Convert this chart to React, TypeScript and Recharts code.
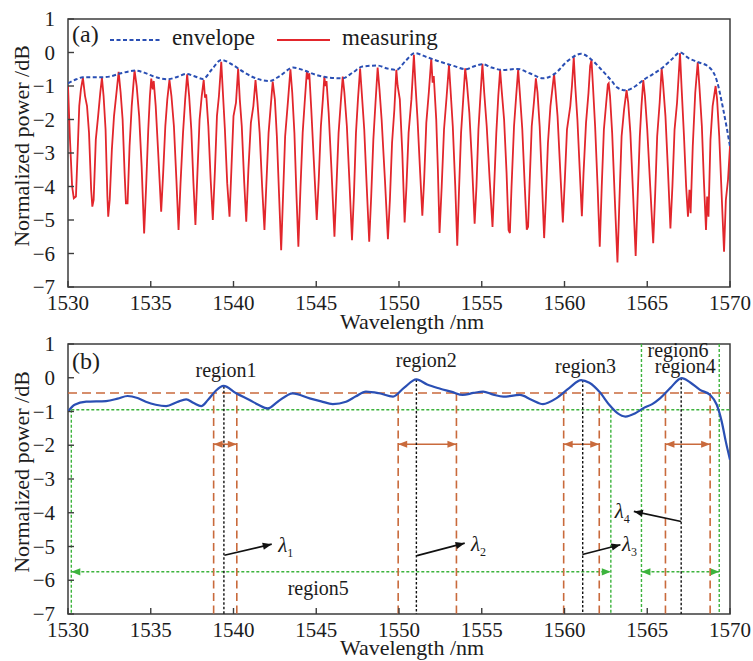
import { LineChart, Line, XAxis, YAxis, ReferenceLine, ReferenceArea, ReferenceDot } from "recharts";

const FONT = "Liberation Serif, DejaVu Serif, Times New Roman, serif";
const INK = "#1c1c1c";
const FRAME = "#3d3d3d";
const RED = "#e2262c";
const BLUE = "#2a4fb4";
const BROWN = "#c96a3c";
const GREEN = "#3db43d";

const xTicks = [1530, 1535, 1540, 1545, 1550, 1555, 1560, 1565, 1570];
const yTicks = [-7, -6, -5, -4, -3, -2, -1, 0, 1];

// (a) measured spectrum, [wavelength nm, dB]
const measured: [number, number][] = [
  [1530.0, -1.0], [1530.12, -2.6], [1530.25, -4.0], [1530.35, -4.35], [1530.48, -4.3], [1530.58, -3.0], [1530.68, -1.6], [1530.78, -1.1],
  [1530.9, -0.75], [1531.03, -1.3], [1531.15, -1.6], [1531.27, -2.4], [1531.4, -4.1], [1531.47, -4.6], [1531.55, -4.4], [1531.68, -2.6], [1531.82, -1.9], [1531.95, -1.2],
  [1532.05, -0.75], [1532.15, -1.3], [1532.27, -2.3], [1532.38, -4.3], [1532.43, -4.9], [1532.52, -4.4], [1532.65, -2.9], [1532.78, -1.9], [1532.95, -1.1],
  [1533.06, -0.58], [1533.18, -1.2], [1533.3, -2.0], [1533.42, -3.6], [1533.5, -4.5], [1533.6, -4.5], [1533.72, -2.8], [1533.85, -1.6],
  [1534.02, -0.53], [1534.15, -1.0], [1534.3, -1.9], [1534.45, -3.4], [1534.6, -5.4], [1534.72, -4.0], [1534.85, -2.3], [1534.95, -1.3],
  [1535.03, -0.78], [1535.12, -1.1], [1535.18, -0.85], [1535.3, -1.6], [1535.45, -3.0], [1535.63, -4.75], [1535.75, -3.6], [1535.88, -2.2], [1536.0, -1.4],
  [1536.13, -0.82], [1536.25, -1.3], [1536.4, -2.2], [1536.55, -3.8], [1536.68, -5.3], [1536.8, -3.9], [1536.95, -2.4], [1537.08, -1.4],
  [1537.2, -0.65], [1537.32, -1.3], [1537.45, -2.3], [1537.58, -3.9], [1537.7, -5.15], [1537.82, -3.6], [1537.95, -2.0], [1538.08, -1.3],
  [1538.2, -0.82], [1538.28, -1.35], [1538.35, -1.25], [1538.48, -2.2], [1538.62, -3.8], [1538.75, -5.0], [1538.88, -3.5], [1539.0, -1.9], [1539.12, -1.3],
  [1539.26, -0.28], [1539.36, -1.2], [1539.48, -2.3], [1539.62, -3.9], [1539.76, -4.9], [1539.88, -3.4], [1540.0, -1.9], [1540.15, -1.5],
  [1540.28, -0.48], [1540.38, -1.4], [1540.5, -2.2], [1540.65, -3.9], [1540.77, -5.05], [1540.9, -3.5], [1541.05, -2.1], [1541.2, -1.6],
  [1541.33, -0.82], [1541.45, -1.5], [1541.58, -2.4], [1541.73, -4.0], [1541.87, -5.3], [1541.98, -4.0], [1542.12, -2.4], [1542.25, -1.6],
  [1542.37, -0.87], [1542.5, -1.4], [1542.62, -2.5], [1542.75, -4.2], [1542.88, -5.9], [1543.0, -4.2], [1543.12, -2.5], [1543.3, -1.4],
  [1543.44, -0.5], [1543.55, -1.2], [1543.68, -2.4], [1543.8, -4.2], [1543.92, -5.8], [1544.05, -4.0], [1544.18, -2.4], [1544.3, -1.5],
  [1544.43, -0.58], [1544.52, -0.8], [1544.58, -0.62], [1544.7, -1.7], [1544.85, -3.2], [1545.03, -5.0], [1545.15, -3.8], [1545.28, -2.2], [1545.4, -1.4],
  [1545.49, -0.72], [1545.55, -1.0], [1545.62, -0.85], [1545.75, -1.8], [1545.92, -3.5], [1546.1, -5.5], [1546.22, -4.0], [1546.35, -2.4], [1546.48, -1.5],
  [1546.6, -0.72], [1546.7, -1.2], [1546.85, -2.2], [1547.0, -3.8], [1547.16, -5.6], [1547.28, -4.2], [1547.4, -2.4], [1547.52, -1.4],
  [1547.65, -0.48], [1547.75, -1.2], [1547.9, -2.3], [1548.05, -4.0], [1548.2, -5.65], [1548.32, -4.3], [1548.45, -2.6], [1548.58, -1.5],
  [1548.71, -0.45], [1548.82, -1.1], [1548.95, -2.0], [1549.15, -3.8], [1549.33, -5.57], [1549.45, -4.4], [1549.58, -2.7], [1549.72, -1.7],
  [1549.84, -0.52], [1549.92, -1.0], [1550.05, -1.4], [1550.2, -3.0], [1550.34, -5.07], [1550.45, -4.0], [1550.58, -2.4], [1550.75, -1.4],
  [1550.9, -0.07], [1551.0, -1.0], [1551.12, -2.0], [1551.28, -3.6], [1551.41, -4.87], [1551.52, -3.8], [1551.65, -2.1], [1551.8, -1.2],
  [1551.95, -0.17], [1552.03, -0.9], [1552.1, -0.7], [1552.25, -2.0], [1552.35, -3.5], [1552.45, -5.39], [1552.58, -4.0], [1552.72, -2.3], [1552.88, -1.3],
  [1553.02, -0.37], [1553.1, -1.0], [1553.25, -2.2], [1553.4, -4.0], [1553.52, -5.77], [1553.62, -4.2], [1553.75, -2.4], [1553.88, -1.4],
  [1554.0, -0.47], [1554.1, -0.9], [1554.25, -1.8], [1554.4, -3.2], [1554.57, -5.11], [1554.68, -4.0], [1554.8, -2.3], [1554.92, -1.3],
  [1555.04, -0.34], [1555.15, -1.2], [1555.3, -2.2], [1555.48, -3.8], [1555.65, -5.21], [1555.75, -4.0], [1555.88, -2.4], [1556.0, -1.3],
  [1556.11, -0.52], [1556.2, -1.1], [1556.35, -2.0], [1556.5, -3.6], [1556.62, -5.3], [1556.7, -5.39], [1556.8, -4.0], [1556.95, -2.2], [1557.08, -1.3],
  [1557.2, -0.5], [1557.3, -1.2], [1557.45, -2.3], [1557.6, -4.0], [1557.72, -5.29], [1557.8, -5.2], [1557.9, -3.8], [1558.02, -2.2], [1558.15, -1.5],
  [1558.27, -0.77], [1558.37, -1.2], [1558.5, -2.2], [1558.65, -4.0], [1558.77, -5.54], [1558.88, -4.3], [1559.0, -2.7], [1559.15, -1.6],
  [1559.37, -0.64], [1559.45, -1.1], [1559.58, -1.9], [1559.75, -3.6], [1559.9, -5.07], [1560.02, -3.8], [1560.15, -2.3], [1560.35, -1.6], [1560.45, -1.0],
  [1560.56, -0.14], [1560.65, -1.0], [1560.78, -2.0], [1560.92, -3.5], [1561.05, -4.89], [1561.15, -3.6], [1561.3, -2.1], [1561.45, -1.2], [1561.55, -0.4],
  [1561.63, -0.22], [1561.72, -1.0], [1561.85, -2.2], [1562.0, -4.0], [1562.13, -5.8], [1562.25, -4.0], [1562.38, -2.3], [1562.52, -1.5], [1562.62, -0.95],
  [1562.67, -0.92], [1562.75, -1.3], [1562.88, -2.4], [1563.05, -4.5], [1563.2, -6.27], [1563.32, -4.4], [1563.45, -2.5], [1563.6, -1.7],
  [1563.75, -1.12], [1563.85, -1.5], [1563.98, -2.4], [1564.15, -4.3], [1564.3, -6.07], [1564.42, -4.3], [1564.55, -2.5], [1564.65, -1.6],
  [1564.76, -0.82], [1564.86, -1.3], [1565.0, -2.3], [1565.18, -4.0], [1565.36, -5.69], [1565.48, -4.2], [1565.6, -2.5], [1565.75, -1.5],
  [1565.87, -0.47], [1565.95, -0.9], [1566.1, -1.9], [1566.25, -3.5], [1566.4, -5.25], [1566.52, -4.0], [1566.65, -2.3], [1566.8, -1.5],
  [1566.98, -0.02], [1567.08, -1.1], [1567.22, -2.5], [1567.35, -4.0], [1567.46, -4.9], [1567.55, -4.1], [1567.62, -4.8], [1567.75, -2.8], [1567.9, -1.2],
  [1568.05, -0.29], [1568.15, -1.0], [1568.3, -2.2], [1568.42, -3.8], [1568.55, -5.3], [1568.62, -4.3], [1568.7, -4.9], [1568.82, -2.6], [1568.95, -1.6],
  [1569.13, -1.0], [1569.22, -1.4], [1569.35, -2.5], [1569.5, -4.3], [1569.64, -5.95], [1569.75, -4.4], [1569.88, -3.8], [1570.0, -2.8],
];

// (a) envelope
const envelope: [number, number][] = [
  [1530.0, -0.92], [1530.5, -0.8], [1530.9, -0.74], [1531.9, -0.74], [1532.5, -0.72], [1533.2, -0.62], [1534.1, -0.54], [1534.6, -0.6],
  [1535.1, -0.7], [1536.0, -0.8], [1536.6, -0.73], [1537.15, -0.64], [1537.6, -0.7], [1538.15, -0.79], [1538.7, -0.5], [1539.26, -0.22],
  [1539.95, -0.37], [1540.6, -0.58], [1541.2, -0.74], [1542.17, -0.85], [1542.8, -0.7], [1543.6, -0.45], [1544.3, -0.54], [1545.0, -0.67],
  [1545.8, -0.75], [1546.6, -0.77], [1547.2, -0.6], [1547.8, -0.42], [1548.7, -0.39], [1549.3, -0.48], [1549.84, -0.52], [1550.4, -0.25],
  [1550.95, -0.02], [1551.7, -0.14], [1552.45, -0.27], [1553.3, -0.4], [1554.05, -0.5], [1554.5, -0.42], [1555.04, -0.35], [1555.6, -0.45],
  [1556.25, -0.52], [1557.15, -0.49], [1557.9, -0.62], [1558.7, -0.77], [1559.4, -0.64], [1560.2, -0.25], [1561.0, -0.04], [1561.6, -0.2],
  [1562.15, -0.47], [1562.85, -0.85], [1563.2, -1.05], [1563.7, -1.13], [1564.3, -1.0], [1564.77, -0.82], [1565.3, -0.66], [1565.88, -0.47],
  [1566.45, -0.22], [1566.98, 0.0], [1567.5, -0.17], [1568.09, -0.29], [1568.69, -0.42], [1569.19, -0.82], [1569.6, -1.72], [1570.0, -2.8],
];

// (b) smoothed curve
const fitted: [number, number][] = [
  [1530.0, -1.0], [1530.4, -0.8], [1531.1, -0.71], [1532.3, -0.69], [1533.0, -0.62], [1533.6, -0.54], [1534.2, -0.6], [1534.7, -0.71],
  [1535.3, -0.8], [1535.93, -0.84], [1536.6, -0.72], [1537.14, -0.64], [1537.6, -0.75], [1538.05, -0.84], [1538.45, -0.66], [1538.9, -0.4],
  [1539.4, -0.24], [1540.16, -0.46], [1540.97, -0.66], [1541.5, -0.8], [1542.07, -0.91], [1542.67, -0.71], [1543.58, -0.46], [1544.6, -0.61],
  [1545.3, -0.7], [1546.0, -0.78], [1546.8, -0.71], [1547.4, -0.55], [1548.0, -0.41], [1548.8, -0.46], [1549.64, -0.56], [1550.3, -0.3],
  [1551.05, -0.05], [1551.7, -0.2], [1552.45, -0.32], [1553.2, -0.42], [1553.85, -0.51], [1554.5, -0.45], [1555.08, -0.41], [1555.7, -0.5],
  [1556.3, -0.56], [1557.3, -0.51], [1558.0, -0.65], [1558.7, -0.78], [1559.5, -0.61], [1560.3, -0.3], [1561.0, -0.07], [1561.5, -0.15],
  [1562.15, -0.44], [1562.7, -0.8], [1563.2, -1.05], [1563.68, -1.15], [1564.25, -1.06], [1564.77, -0.9], [1565.3, -0.78], [1565.77, -0.61],
  [1566.4, -0.3], [1567.08, -0.01], [1567.6, -0.14], [1568.19, -0.36], [1568.8, -0.51], [1569.2, -0.8], [1569.5, -1.3], [1569.75, -1.9], [1570.0, -2.43],
];

// (b) annotation values
const peakWl = [1539.42, 1551.05, 1561.1, 1567.05];
const peakTop = [-0.25, -0.05, -0.07, 0.0];
const regionEdges: [number, number][] = [[1538.8, 1540.2], [1549.95, 1553.47], [1559.95, 1562.1], [1566.1, 1568.8]];
const threshold = -0.45;
const lowLevel = -0.95;
const widthLevel = -1.97;
const spanLevel = -5.75;
const greenShort = [1530.2, 1562.8];
const greenFull = [1564.65, 1569.35];
const spanEdges: [number, number][] = [[1530.2, 1562.8], [1564.65, 1569.35]];
const regionNames = ["region1", "region2", "region3", "region6", "region4", "region5"];
const regionX = [1539.55, 1551.65, 1561.27, 1566.86, 1567.3, 1545.12];
const regionY = [0.03, 0.33, 0.15, 0.62, 0.15, -6.45];
const lambdaFrom: [number, number][] = [[1539.45, -5.26], [1551.09, -5.27], [1561.08, -5.24], [1567.05, -4.26]];
const lambdaTo: [number, number][] = [[1542.31, -4.93], [1553.97, -4.9], [1563.38, -4.95], [1564.19, -3.96]];
const lambdaLabel: [number, number][] = [[1542.7, -5.15], [1554.35, -5.14], [1563.47, -5.12], [1563.03, -4.15]];

const pts = (arr: [number, number][]) => arr.map(([x, y]) => ({ x, y }));

const fmt = (v: number) => (v < 0 ? "\u2212" + Math.abs(v) : String(v));

const XTick = ({ x, y, payload }: any) => (
  <g>
    <line x1={x} y1={y} x2={x} y2={y - 6} stroke={FRAME} strokeWidth={1.4} />
    <text x={x} y={y + 23} textAnchor="middle" fontSize={21} style={{ fontFamily: FONT }} fill={INK}>
      {payload.value}
    </text>
  </g>
);

const YTick = ({ x, y, payload }: any) => (
  <g>
    <line x1={x} y1={y} x2={x + 6} y2={y} stroke={FRAME} strokeWidth={1.4} />
    <text x={x - 13} y={y + 7} textAnchor="end" fontSize={21} style={{ fontFamily: FONT }} fill={INK}>
      {fmt(payload.value)}
    </text>
  </g>
);

const xTitle = (dy: number) => (p: any) => {
  const vb = p.viewBox;
  return (
    <text x={vb.x + vb.width / 2 + 13} y={vb.y + dy} textAnchor="middle" fontSize={22} style={{ fontFamily: FONT }} fill={INK}>
      Wavelength /nm
    </text>
  );
};

const yTitle = (p: any) => {
  const vb = p.viewBox;
  const cx = 21;
  const cy = vb.y + vb.height / 2 - 7;
  return (
    <text
      x={cx}
      y={cy}
      transform={`rotate(-90 ${cx} ${cy})`}
      textAnchor="middle"
      dominantBaseline="central"
      fontSize={22}
      style={{ fontFamily: FONT }}
      fill={INK}
    >
      Normalized power /dB
    </text>
  );
};

const arrowShape = (color: string, both: boolean, dash?: string, width = 1.5) => (p: any) => {
  const { x1, y1, x2, y2 } = p;
  const a = Math.atan2(y2 - y1, x2 - x1);
  const head = (x: number, y: number, ang: number) => {
    const L = 9;
    const W = 3.6;
    const bx = x - L * Math.cos(ang);
    const by = y - L * Math.sin(ang);
    const pts = `${x},${y} ${bx - W * Math.sin(ang)},${by + W * Math.cos(ang)} ${bx + W * Math.sin(ang)},${by - W * Math.cos(ang)}`;
    return <polygon points={pts} fill={color} />;
  };
  return (
    <g>
      <line x1={x1} y1={y1} x2={x2} y2={y2} stroke={color} strokeWidth={width} strokeDasharray={dash} />
      {both && head(x1, y1, a + Math.PI)}
      {head(x2, y2, a)}
    </g>
  );
};

function PanelA() {
  return (
    <LineChart width={753} height={340} margin={{ top: 19, right: 23, bottom: 0, left: 0 }}>
      <XAxis
        type="number"
        dataKey="x"
        domain={[1530, 1570]}
        ticks={xTicks}
        interval={0}
        allowDataOverflow
        height={53}
        axisLine={false}
        tickLine={false}
        tickSize={0}
        tickMargin={0}
        tick={<XTick />}
        label={{ content: xTitle(42) }}
      />
      <YAxis
        type="number"
        dataKey="y"
        domain={[-7, 1]}
        ticks={yTicks}
        interval={0}
        allowDataOverflow
        width={68}
        axisLine={false}
        tickLine={false}
        tickSize={0}
        tickMargin={0}
        tick={<YTick />}
        label={{ content: yTitle }}
      />
      <ReferenceArea x1={1530} x2={1570} y1={-7} y2={1} fill="none" stroke={FRAME} strokeWidth={1.5} />
      <Line data={pts(measured)} dataKey="y" type="linear" stroke={RED} strokeWidth={1.8} dot={false} isAnimationActive={false} />
      <Line
        data={pts(envelope)}
        dataKey="y"
        type="monotone"
        stroke={BLUE}
        strokeWidth={2}
        strokeDasharray="4 2.5"
        dot={false}
        isAnimationActive={false}
      />
      <ReferenceDot
        x={1530}
        y={1}
        r={0}
        ifOverflow="visible"
        shape={(p: any) => (
          <g style={{ fontFamily: FONT }} fill={INK}>
            <text x={p.cx + 4} y={p.cy + 23} fontSize={24}>(a)</text>
            <line x1={p.cx + 42} y1={p.cy + 21} x2={p.cx + 94} y2={p.cy + 21} stroke={BLUE} strokeWidth={2} strokeDasharray="4 2.5" />
            <text x={p.cx + 104} y={p.cy + 26} fontSize={23}>envelope</text>
            <line x1={p.cx + 209} y1={p.cy + 21} x2={p.cx + 262} y2={p.cy + 21} stroke={RED} strokeWidth={2} />
            <text x={p.cx + 274} y={p.cy + 26} fontSize={23}>measuring</text>
          </g>
        )}
      />
    </LineChart>
  );
}

function PanelB() {
  return (
    <LineChart width={753} height={331} margin={{ top: 14, right: 23, bottom: 0, left: 0 }}>
      <XAxis
        type="number"
        dataKey="x"
        domain={[1530, 1570]}
        ticks={xTicks}
        interval={0}
        allowDataOverflow
        height={47}
        axisLine={false}
        tickLine={false}
        tickSize={0}
        tickMargin={0}
        tick={<XTick />}
        label={{ content: xTitle(41) }}
      />
      <YAxis
        type="number"
        dataKey="y"
        domain={[-7, 1]}
        ticks={yTicks}
        interval={0}
        allowDataOverflow
        width={68}
        axisLine={false}
        tickLine={false}
        tickSize={0}
        tickMargin={0}
        tick={<YTick />}
        label={{ content: yTitle }}
      />
      <ReferenceArea x1={1530} x2={1570} y1={-7} y2={1} fill="none" stroke={FRAME} strokeWidth={1.5} />

      {/* green limits */}
      <ReferenceLine segment={[{ x: greenShort[0], y: lowLevel }, { x: 1570, y: lowLevel }]} stroke={GREEN} strokeWidth={1.4} strokeDasharray="3 2" />
      {greenShort.map((w) => (
        <ReferenceLine key={"gs" + w} segment={[{ x: w, y: lowLevel }, { x: w, y: -7 }]} stroke={GREEN} strokeWidth={1.4} strokeDasharray="3 2" />
      ))}
      {greenFull.map((w) => (
        <ReferenceLine key={"gf" + w} segment={[{ x: w, y: 1 }, { x: w, y: -7 }]} stroke={GREEN} strokeWidth={1.4} strokeDasharray="3 2" />
      ))}
      {spanEdges.map(([a, b]) => (
        <ReferenceLine
          key={"sp" + a}
          segment={[{ x: a, y: spanLevel }, { x: b, y: spanLevel }]}
          shape={arrowShape(GREEN, true, "3 2", 1.4)}
        />
      ))}

      {/* brown threshold and widths */}
      <ReferenceLine y={threshold} stroke={BROWN} strokeWidth={1.6} strokeDasharray="9 5" />
      {regionEdges.map(([a, b]) => [a, b].map((w) => (
        <ReferenceLine key={"br" + w} segment={[{ x: w, y: threshold }, { x: w, y: -7 }]} stroke={BROWN} strokeWidth={1.6} strokeDasharray="8 4.5" />
      )))}
      {regionEdges.map(([a, b]) => (
        <ReferenceLine
          key={"bw" + a}
          segment={[{ x: a, y: widthLevel }, { x: b, y: widthLevel }]}
          shape={arrowShape(BROWN, true, undefined, 1.6)}
        />
      ))}

      {/* peak wavelengths */}
      {peakWl.map((w, i) => (
        <ReferenceLine key={"pk" + w} segment={[{ x: w, y: peakTop[i] }, { x: w, y: -7 }]} stroke="#111" strokeWidth={1.4} strokeDasharray="2.5 2" />
      ))}
      {lambdaFrom.map((f, i) => (
        <ReferenceLine
          key={"la" + i}
          segment={[{ x: f[0], y: f[1] }, { x: lambdaTo[i][0], y: lambdaTo[i][1] }]}
          shape={arrowShape("#111", false, undefined, 1.6)}
        />
      ))}
      {lambdaLabel.map(([x, y], i) => (
        <ReferenceDot
          key={"ll" + i}
          x={x}
          y={y}
          r={0}
          ifOverflow="visible"
          shape={(p: any) => (
            <text x={p.cx} y={p.cy} style={{ fontFamily: FONT }} fill={INK}>
              <tspan fontSize={21} fontStyle="italic">λ</tspan>
              <tspan fontSize={12} dy={5}>{i + 1}</tspan>
            </text>
          )}
        />
      ))}

      <Line data={pts(fitted)} dataKey="y" type="monotone" stroke={BLUE} strokeWidth={2.2} dot={false} isAnimationActive={false} />

      {regionNames.map((name, i) => (
        <ReferenceDot
          key={name}
          x={regionX[i]}
          y={regionY[i]}
          r={0}
          ifOverflow="visible"
          shape={(p: any) => (
            <text x={p.cx} y={p.cy} textAnchor="middle" fontSize={20} style={{ fontFamily: FONT }} fill={INK}>
              {name}
            </text>
          )}
        />
      ))}
      <ReferenceDot
        x={1530}
        y={1}
        r={0}
        ifOverflow="visible"
        shape={(p: any) => (
          <text x={p.cx + 4} y={p.cy + 25} fontSize={24} style={{ fontFamily: FONT }} fill={INK}>(b)</text>
        )}
      />
    </LineChart>
  );
}

export default function App() {
  return (
    <div style={{ position: "absolute", left: 0, top: 0, width: 753, height: 661, background: "#fff" }}>
      <div style={{ position: "absolute", left: 0, top: 0 }}>
        <PanelA />
      </div>
      <div style={{ position: "absolute", left: 0, top: 330 }}>
        <PanelB />
      </div>
    </div>
  );
}
